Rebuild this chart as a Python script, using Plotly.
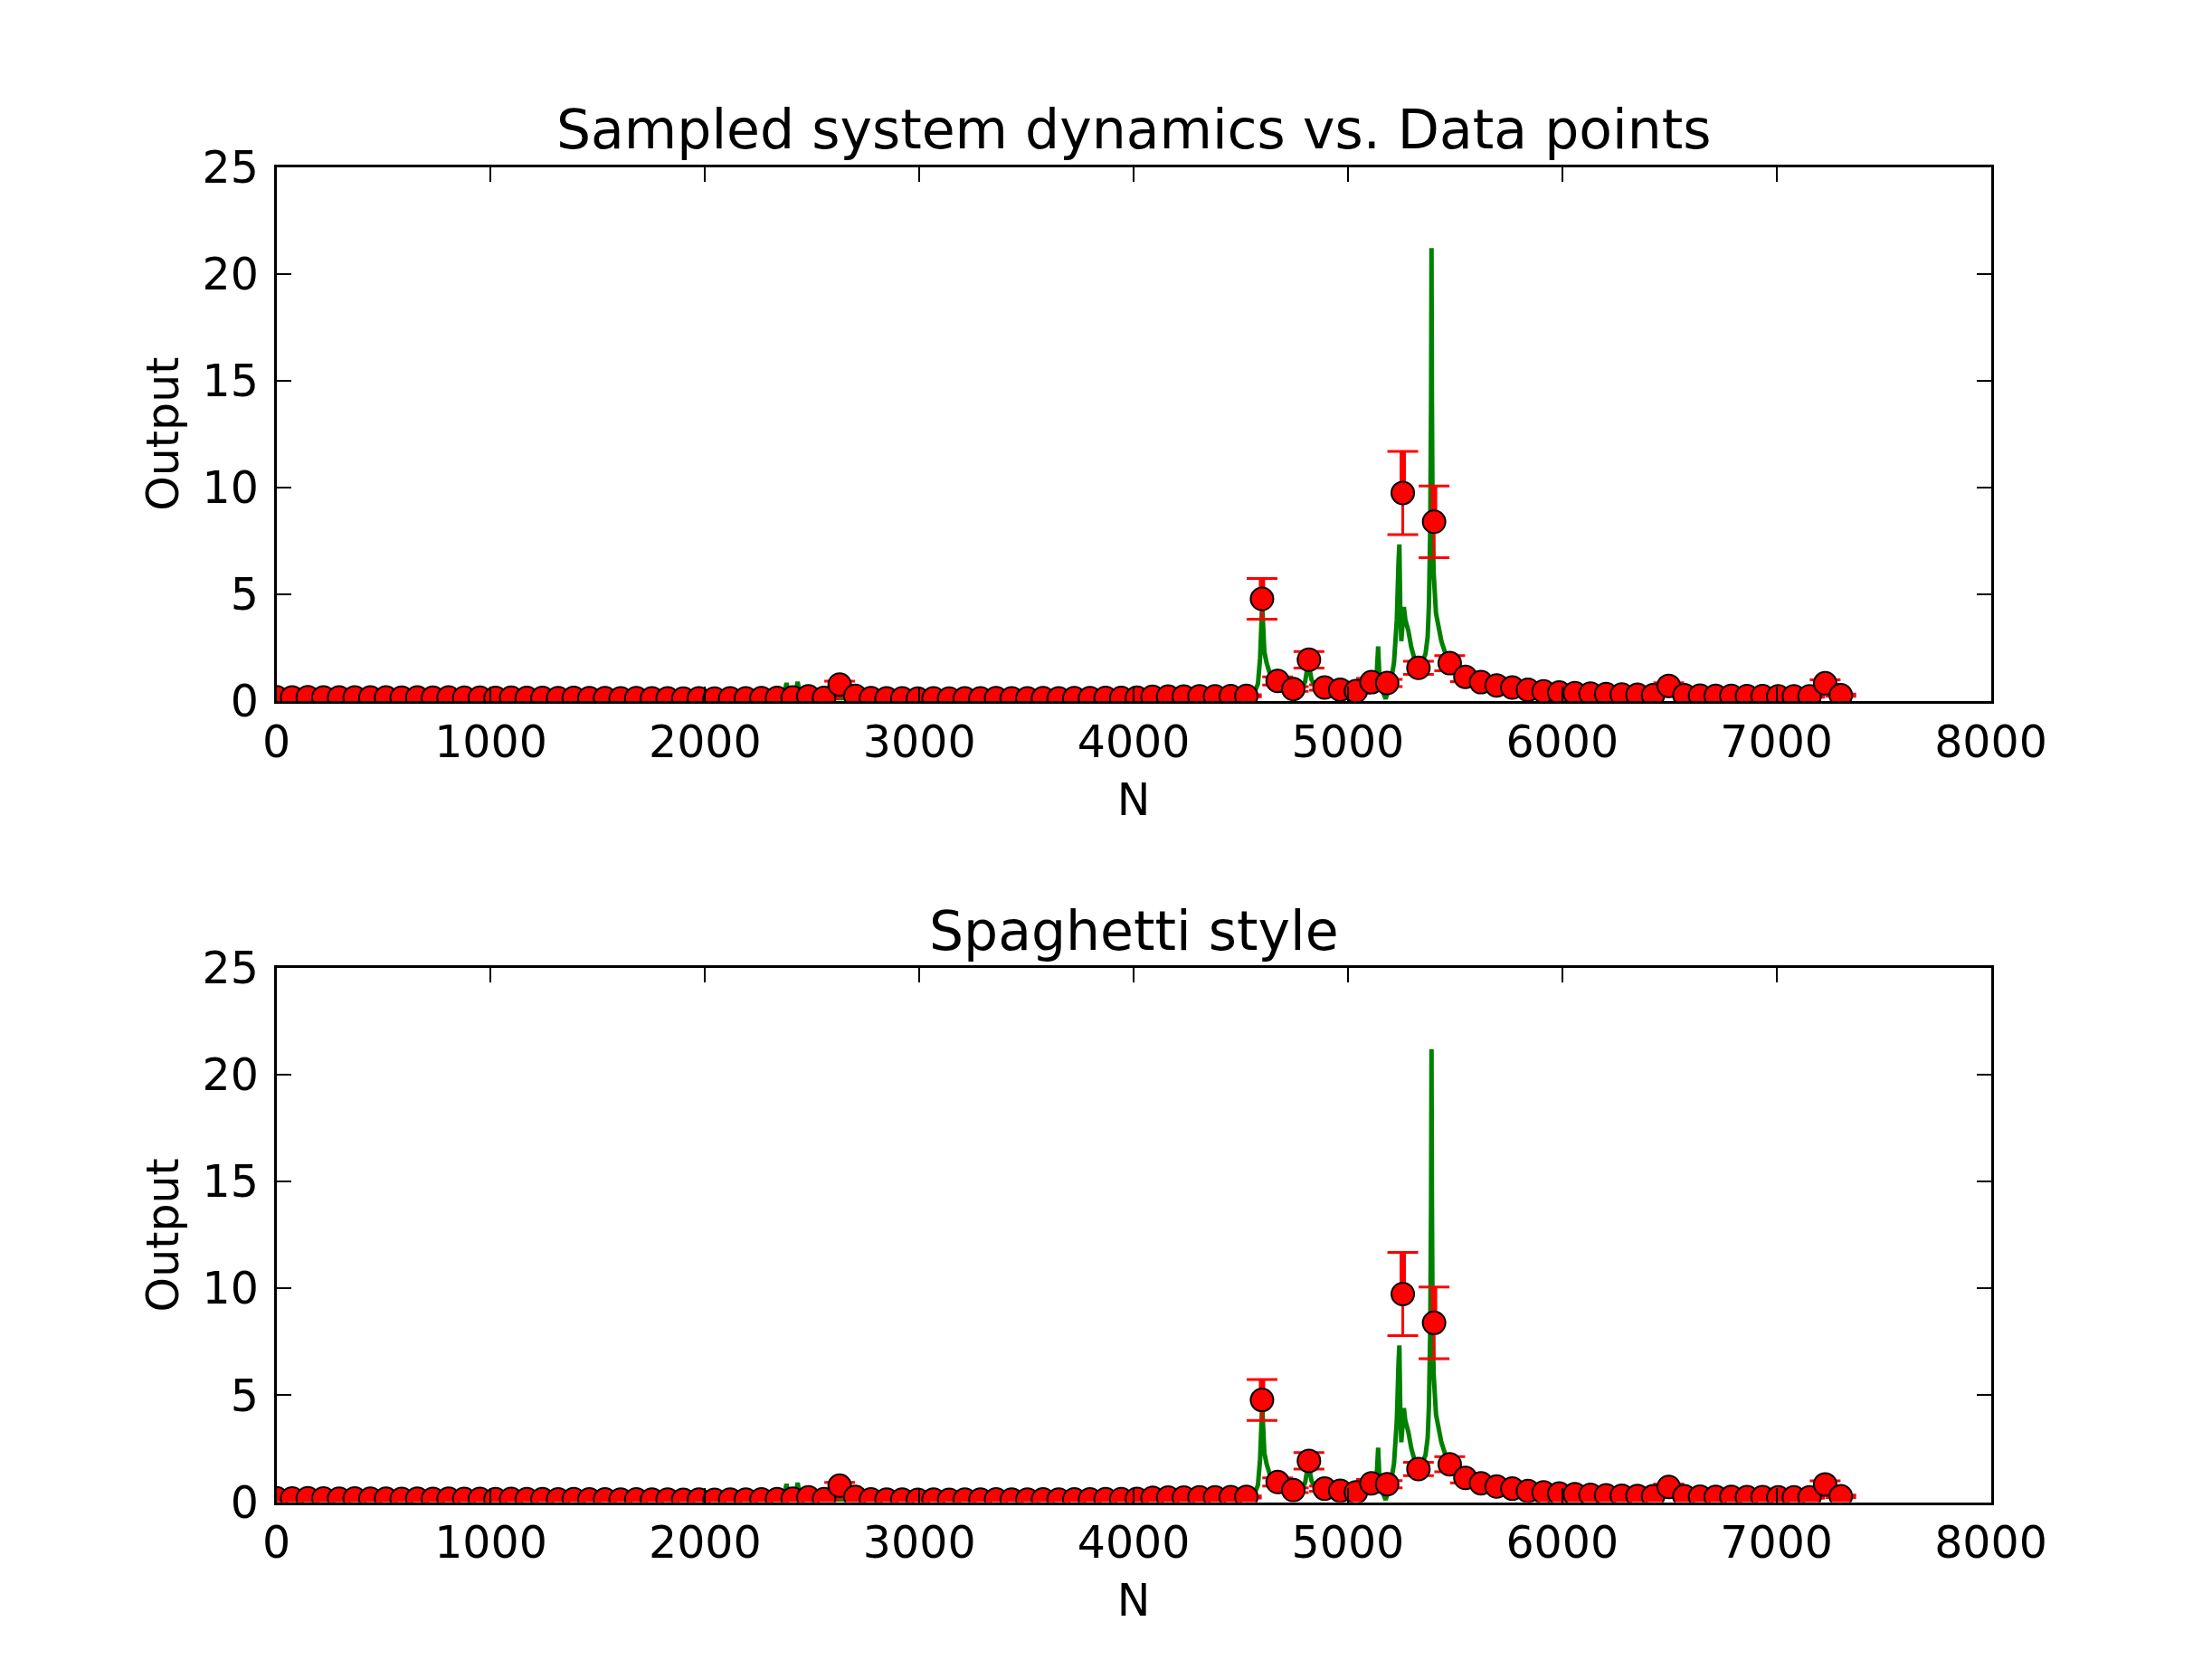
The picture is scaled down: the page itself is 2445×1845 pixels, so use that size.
import plotly.graph_objects as go

sample_n = [0, 73, 146, 219, 292, 365, 438, 511, 584, 657,
            730, 803, 876, 949, 1022, 1095, 1168, 1241, 1314, 1387,
            1460, 1533, 1606, 1679, 1752, 1825, 1898, 1971, 2044, 2117,
            2190, 2263, 2336, 2409, 2482, 2555, 2628, 2701, 2774, 2847,
            2920, 2993, 3066, 3139, 3212, 3285, 3358, 3431, 3504, 3577,
            3650, 3723, 3796, 3869, 3942, 4015, 4088, 4161, 4234, 4307,
            4380, 4453, 4526, 4599, 4672, 4745, 4818, 4891, 4964, 5037,
            5110, 5183, 5256, 5329, 5402, 5475, 5548, 5621, 5694, 5767,
            5840, 5913, 5986, 6059, 6132, 6205, 6278, 6351, 6424, 6497,
            6570, 6643, 6716, 6789, 6862, 6935, 7008, 7081, 7154, 7227,
            7300]
sample_out = [0.18, 0.17, 0.18, 0.17, 0.16, 0.17, 0.16, 0.16, 0.15, 0.16,
              0.15, 0.16, 0.15, 0.15, 0.14, 0.15, 0.14, 0.14, 0.13, 0.14,
              0.13, 0.13, 0.12, 0.13, 0.12, 0.12, 0.11, 0.12, 0.11, 0.12,
              0.12, 0.13, 0.14, 0.16, 0.22, 0.14, 0.77, 0.24, 0.13, 0.12,
              0.12, 0.11, 0.12, 0.11, 0.12, 0.12, 0.13, 0.12, 0.12, 0.13,
              0.12, 0.13, 0.13, 0.14, 0.14, 0.15, 0.20, 0.21, 0.21, 0.22,
              0.22, 0.23, 0.24, 4.78, 0.94, 0.56, 1.93, 0.63, 0.53, 0.46,
              0.88, 0.84, 9.74, 1.55, 8.39, 1.77, 1.13, 0.88, 0.73, 0.63,
              0.52, 0.45, 0.40, 0.37, 0.34, 0.32, 0.30, 0.29, 0.27, 0.71,
              0.27, 0.25, 0.24, 0.24, 0.23, 0.23, 0.22, 0.22, 0.22, 0.83,
              0.27]
err_pct = 20  # error bars look like +-20% of each point

# simulated dynamics (green), traced by eye around the peaks
sim_n = [0, 2350, 2370, 2380, 2390, 2422, 2432, 2442, 2470, 4540,
         4560, 4580, 4590, 4596, 4600, 4604, 4610, 4620, 4632, 4650,
         4680, 4720, 4780, 4800, 4810, 4816, 4822, 4830, 4850, 4900,
         5050, 5120, 5134, 5141, 5147, 5160, 5176, 5188, 5200, 5215,
         5228, 5236, 5240, 5244, 5249, 5255, 5261, 5268, 5282, 5296,
         5310, 5328, 5345, 5362, 5372, 5378, 5384, 5388, 5390, 5392,
         5395, 5400, 5411, 5436, 5457, 5480, 5520, 5560, 5620, 5700,
         5800, 5900, 6000, 6200, 6450, 6490, 6510, 7200, 7222, 7240,
         7300]
sim_out = [0.1, 0.12, 0.3, 0.85, 0.3, 0.3, 0.9, 0.3, 0.12, 0.2,
           0.3, 0.8, 2.0, 4.0, 4.6, 3.6, 2.3, 1.8, 1.4, 1.0,
           0.6, 0.45, 0.5, 0.9, 1.5, 1.2, 1.45, 1.0, 0.6, 0.45,
           0.45, 0.7, 1.2, 2.55, 1.1, 0.5, 0.1, 0.5, 0.9, 1.8,
           3.8, 6.5, 7.33, 4.5, 2.8, 3.6, 4.4, 3.8, 3.28, 2.5,
           2.0, 1.8, 1.8, 2.2, 3.0, 4.5, 8.0, 14.0, 21.2, 14.0,
           8.5, 6.0, 4.1, 2.8, 2.15, 1.7, 1.25, 1.0, 0.8, 0.65,
           0.5, 0.42, 0.36, 0.3, 0.27, 0.6, 0.3, 0.24, 0.7, 0.28,
           0.25]

titles = ["Sampled system dynamics vs. Data points", "Spaghetti style"]
x_ticks = [0, 1000, 2000, 3000, 4000, 5000, 6000, 7000, 8000]
y_ticks = [0, 5, 10, 15, 20, 25]

W, H = 2445, 1845
# the page body adds an 8px margin, so pull the domains back by that much
dx, dy = 8 / W, 8 / H
x_dom = [0.125 - dx, 0.9 - dx]
domains = [[0.58 + dy, 0.9 + dy], [0.1 + dy, 0.42 + dy]]

fig = go.Figure()

for i, title in enumerate(titles):
    xa = "x" if i == 0 else "x%d" % (i + 1)
    ya = "y" if i == 0 else "y%d" % (i + 1)
    fig.add_trace(go.Scatter(
        x=sim_n, y=sim_out, mode="lines",
        line=dict(color="#008000", width=5),
        xaxis=xa, yaxis=ya, hoverinfo="skip"))
    # thick upper half of the error bar
    fig.add_trace(go.Scatter(
        x=sample_n, y=sample_out, mode="markers",
        marker=dict(size=2, opacity=0),
        error_y=dict(type="percent", value=err_pct, valueminus=0, symmetric=False,
                     color="red", thickness=7, width=0),
        xaxis=xa, yaxis=ya, hoverinfo="skip"))
    fig.add_trace(go.Scatter(
        x=sample_n, y=sample_out, mode="markers",
        marker=dict(color="red", size=25, line=dict(color="black", width=2)),
        error_y=dict(type="percent", value=err_pct, color="red", thickness=3, width=17),
        xaxis=xa, yaxis=ya))

    ax_common = dict(showline=True, linewidth=3, linecolor="black", mirror="allticks",
                     ticks="inside", ticklen=16, tickwidth=1.5, tickcolor="black",
                     showgrid=False, zeroline=False, automargin=False,
                     tickfont=dict(size=49))
    fig.layout["xaxis" if i == 0 else "xaxis%d" % (i + 1)] = dict(
        ax_common, domain=x_dom, range=[0, 8000], tickvals=x_ticks,
        anchor=ya, ticklabelstandoff=0,
        title=dict(text="N", font=dict(size=49), standoff=19))
    fig.layout["yaxis" if i == 0 else "yaxis%d" % (i + 1)] = dict(
        ax_common, domain=domains[i], range=[0, 25], tickvals=y_ticks,
        anchor=xa, ticklabelstandoff=7,
        title=dict(text="Output", font=dict(size=49), standoff=11))
    fig.add_annotation(text=title, x=(x_dom[0] + x_dom[1]) / 2, y=domains[i][1],
                       xref="paper", yref="paper",
                       xanchor="center", yanchor="bottom", yshift=4, showarrow=False,
                       font=dict(size=60))

fig.update_layout(width=W, height=H, margin=dict(l=0, r=0, t=0, b=0),
                  paper_bgcolor="white", plot_bgcolor="white", showlegend=False,
                  font=dict(family="DejaVu Sans", color="black", size=49))

fig.write_html("out.html")
